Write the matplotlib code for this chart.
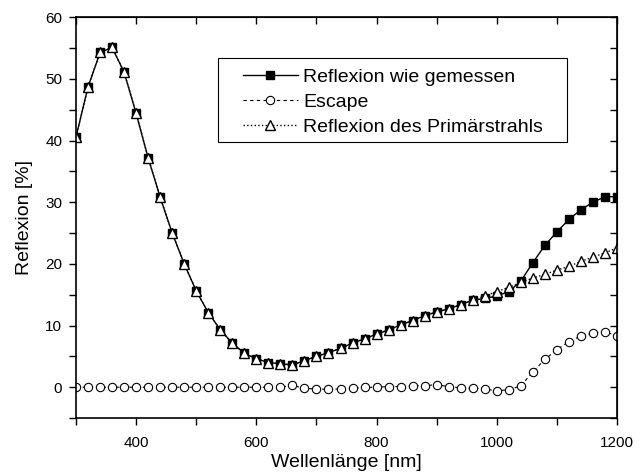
import numpy as np
import matplotlib.pyplot as plt
from matplotlib.ticker import MultipleLocator
from matplotlib.patches import Rectangle

plt.rcParams['font.family'] = ['Liberation Sans', 'DejaVu Sans']

wl = np.arange(300, 1201, 20)

primaer = [40.6, 48.7, 54.3, 55.1, 51.1, 44.4, 37.2, 30.8, 25.0, 20.0,
           15.6, 12.1, 9.3, 7.15, 5.5, 4.6, 4.0, 3.8, 3.6, 4.3,
           5.0, 5.6, 6.3, 7.15, 7.85, 8.6, 9.3, 10.1, 10.8, 11.6,
           12.2, 12.7, 13.4, 14.1, 14.8, 15.5, 16.2, 17.0, 17.7, 18.3,
           19.0, 19.6, 20.4, 21.1, 21.8, 22.6]

gemessen = primaer[:34] + [14.4, 14.8, 15.5, 17.2, 20.2, 23.0,
                           25.2, 27.2, 28.8, 30.0, 30.9, 30.9]

escape = [0.0, 0.0, 0.0, 0.0, 0.0, 0.0, 0.0, 0.0, 0.0, 0.0,
          0.0, 0.0, 0.0, 0.0, 0.0, 0.0, 0.0, 0.0, 0.3, -0.2,
          -0.3, -0.35, -0.3, -0.2, -0.05, 0.0, 0.1, 0.1, 0.2, 0.25,
          0.4, 0.1, -0.1, -0.2, -0.3, -0.6, -0.4, 0.2, 2.5, 4.5,
          6.1, 7.4, 8.3, 8.8, 9.0, 8.3]

fig = plt.figure(figsize=(6.41, 4.75), dpi=100)
ax = fig.add_axes([0.1186, 0.12, 0.844, 0.8436])

ax.plot(wl, gemessen, '-', color='black', lw=1, marker='s', ms=5.3,
        mfc='black', mec='black', label='Reflexion wie gemessen')
ax.plot(wl, escape, '--', color='black', lw=0.8, marker='o', ms=6,
        mfc='white', mec='black', mew=0.8, label='Escape', dashes=(3, 3))
ax.plot(wl, primaer, ':', color='black', lw=1, marker='^', ms=7,
        mfc='white', mec='black', mew=1, label='Reflexion des Primärstrahls')

ax.set_xlim(300, 1200)
ax.set_ylim(-5, 60)
ax.set_xticks([400, 600, 800, 1000, 1200])
ax.xaxis.set_minor_locator(MultipleLocator(100))
ax.yaxis.set_major_locator(MultipleLocator(10))
ax.yaxis.set_minor_locator(MultipleLocator(5))
ax.tick_params(which='both', direction='out', labelsize=11, width=1, length=5)
ax.tick_params(axis='x', pad=8)
ax.tick_params(axis='y', pad=5)

# innen liegende Ticks oben und rechts
axt = ax.secondary_xaxis('top')
axt.xaxis.set_major_locator(MultipleLocator(100))
axt.tick_params(direction='in', length=5, width=1, labeltop=False)
axr = ax.secondary_yaxis('right')
axr.yaxis.set_major_locator(MultipleLocator(5))
axr.tick_params(direction='in', length=5, width=1, labelright=False)

for s in ax.spines.values():
    s.set_linewidth(1.2)

ax.set_xlabel('Wellenlänge [nm]', fontsize=14, labelpad=3)
ax.set_ylabel('Reflexion [%]', fontsize=14, labelpad=9)

# Legendenrahmen
ax.add_patch(Rectangle((0.2625, 0.688), 0.645, 0.21, transform=ax.transAxes,
                       fill=False, edgecolor='black', lw=0.8, zorder=5))
ax.legend(loc='upper left', bbox_to_anchor=(0.309, 0.873), fontsize=14,
          frameon=False, handlelength=2.8, borderpad=0, labelspacing=0.38,
          handletextpad=0.3, borderaxespad=0)

fig.savefig('out.png', dpi=100)
